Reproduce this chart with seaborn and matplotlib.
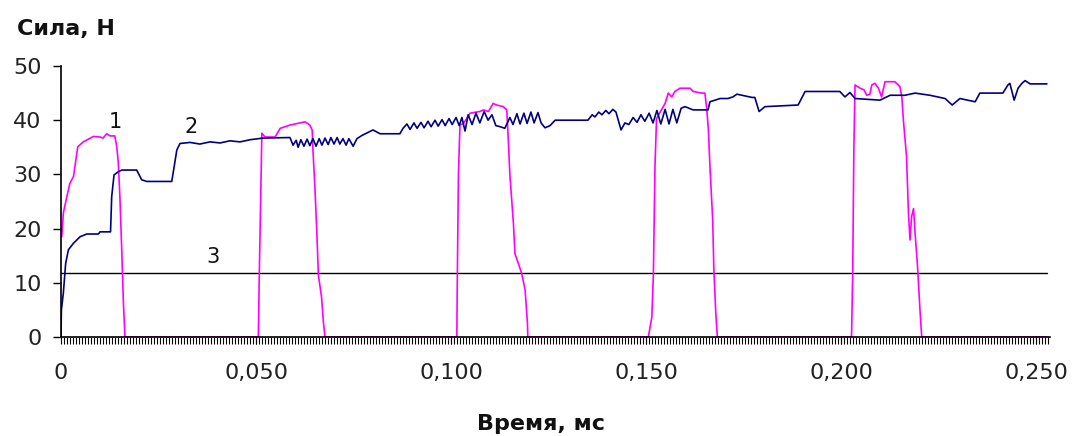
import matplotlib
matplotlib.use("Agg")
import matplotlib.pyplot as plt
import seaborn as sns
import pandas as pd
from matplotlib.ticker import MultipleLocator, FixedLocator, FixedFormatter

# ---- data (time in ms, force in N) ----
pink_t = [0.0002, 0.0006, 0.0015, 0.0023, 0.0032, 0.0043, 0.0057, 0.0083, 0.0100, 0.0108,
          0.0117, 0.0126, 0.0138, 0.0143, 0.0147, 0.0151, 0.0156, 0.0160, 0.0164,
          0.0506, 0.0508, 0.0515, 0.0523, 0.0549, 0.0562, 0.0587, 0.0626, 0.0638, 0.0644,
          0.0646, 0.0651, 0.0656, 0.0660, 0.0668, 0.0673, 0.0677,
          0.1015, 0.1016, 0.1019, 0.1023, 0.1032, 0.1049, 0.1074, 0.1083, 0.1096, 0.1108,
          0.1117, 0.1134, 0.1143, 0.1147, 0.1151, 0.1160, 0.1164, 0.1181, 0.1190, 0.1196, 0.1197,
          0.1506, 0.1515, 0.1519, 0.1523, 0.1527, 0.1549, 0.1557, 0.1566, 0.1574, 0.1587,
          0.1613, 0.1621, 0.1643, 0.1651, 0.1656, 0.1660, 0.1664, 0.1671, 0.1674, 0.1679, 0.1683,
          0.2027, 0.2030, 0.2033, 0.2036, 0.2049, 0.2059, 0.2066, 0.2074, 0.2079, 0.2087,
          0.2096, 0.2104, 0.2113, 0.2138, 0.2151, 0.2156, 0.2160, 0.2168, 0.2173, 0.2177,
          0.2181, 0.2186, 0.2190, 0.2196, 0.2203, 0.2207, 0.2528]
pink_v = [18.5, 22.9, 25.9, 28.4, 29.6, 35.1, 36.0, 37.0, 36.9, 36.7,
          37.5, 37.1, 37.1, 35.1, 32.1, 25.9, 15.5, 6.3, 0.0,
          0.0, 9.6, 37.6, 36.9, 36.9, 38.5, 39.1, 39.7, 39.1, 38.2,
          34.5, 27.7, 19.2, 11.4, 7.4, 2.6, 0.0,
          0.0, 9.6, 29.9, 39.1, 39.4, 41.3, 41.6, 41.9, 41.6, 43.1,
          42.8, 42.5, 41.9, 36.3, 29.9, 21.0, 15.4, 11.8, 8.7, 2.5, 0.0,
          0.0, 3.7, 11.8, 31.5, 40.3, 43.1, 45.0, 44.3, 45.3, 45.9,
          45.9, 45.3, 45.0, 45.0, 41.9, 38.2, 31.4, 21.6, 12.4, 4.4, 0.0,
          0.0, 11.8, 34.8, 46.5, 45.9, 45.6, 44.6, 44.8, 46.5, 46.8,
          45.9, 44.3, 47.1, 47.1, 46.2, 44.3, 40.0, 33.3, 22.8, 17.9,
          22.2, 23.7, 19.1, 13.3, 4.4, 0.0, 0.0]

blue_t = [0.0000, 0.0001, 0.0006, 0.0012, 0.0019, 0.0032, 0.0049, 0.0066, 0.0096, 0.0100,
          0.0127, 0.0130, 0.0136, 0.0147, 0.0156, 0.0194, 0.0207, 0.0220, 0.0284, 0.0288,
          0.0297, 0.0305, 0.0331, 0.0356, 0.0382, 0.0408, 0.0433, 0.0459, 0.0485, 0.0518,
          0.0587, 0.0595, 0.0603, 0.0608, 0.0615, 0.0623, 0.0631, 0.0638, 0.0646, 0.0654,
          0.0662, 0.0669, 0.0677, 0.0685, 0.0692, 0.0700, 0.0708, 0.0715, 0.0723, 0.0731,
          0.0738, 0.0749, 0.0759, 0.0772, 0.0800, 0.0818, 0.0869, 0.0877,
          0.0887, 0.0895, 0.0905, 0.0913, 0.0923, 0.0931, 0.0941, 0.0949, 0.0959, 0.0967,
          0.0977, 0.0985, 0.0995, 0.1003, 0.1013, 0.1021,
          0.1028, 0.1036, 0.1044, 0.1054, 0.1064, 0.1074, 0.1085, 0.1095, 0.1105, 0.1115,
          0.1126, 0.1138,
          0.1151, 0.1159, 0.1169, 0.1177, 0.1187, 0.1195, 0.1205, 0.1213, 0.1223, 0.1231,
          0.1241, 0.1254, 0.1267, 0.1351, 0.1362, 0.1369, 0.1379, 0.1387, 0.1397, 0.1405,
          0.1415, 0.1423, 0.1431, 0.1436, 0.1446, 0.1456, 0.1467, 0.1477, 0.1487, 0.1497,
          0.1508, 0.1518, 0.1528, 0.1538, 0.1549, 0.1559, 0.1569, 0.1579, 0.1590, 0.1600,
          0.1621, 0.1659, 0.1664, 0.1690, 0.1710, 0.1723, 0.1733, 0.1772, 0.1779, 0.1790,
          0.1805, 0.1890, 0.1908, 0.1997, 0.2010, 0.2023, 0.2036, 0.2100, 0.2126, 0.2164,
          0.2190, 0.2228, 0.2267, 0.2285, 0.2305, 0.2344, 0.2356, 0.2415, 0.2428, 0.2433,
          0.2444, 0.2454, 0.2464, 0.2472, 0.2485, 0.2528]
blue_v = [0.0, 5.0, 8.1, 13.6, 16.1, 17.3, 18.5, 19.0, 19.0, 19.4,
          19.4, 25.9, 29.9, 30.5, 30.8, 30.8, 29.0, 28.7, 28.7, 30.5,
          34.5, 35.7, 35.9, 35.6, 36.0, 35.8, 36.2, 36.0, 36.4, 36.7,
          36.8, 35.4, 36.3, 35.0, 36.4, 35.2, 36.5, 35.3, 36.6, 35.2,
          36.6, 35.4, 36.7, 35.5, 36.8, 35.6, 36.8, 35.6, 36.6, 35.4,
          36.6, 35.2, 36.6, 37.2, 38.2, 37.5, 37.5, 38.5,
          39.3, 38.3, 39.5, 38.5, 39.6, 38.6, 39.8, 38.8, 40.0, 38.9,
          40.1, 39.0, 40.3, 39.2, 40.5, 39.0,
          40.5, 38.0, 41.0, 39.2, 41.3, 39.5, 41.6, 40.0, 41.0, 39.0,
          38.8, 38.5,
          40.5, 39.2, 41.2, 39.3, 41.3, 39.4, 41.5, 39.5, 41.4, 39.5,
          38.6, 39.0, 40.0, 40.0, 41.0, 40.6, 41.5, 41.0, 41.8, 41.2,
          42.0, 41.5, 39.5, 38.2, 39.5, 39.2, 40.5, 39.6, 41.0, 39.8,
          41.3, 39.5, 41.8, 39.3, 42.0, 39.3, 42.0, 39.5, 42.2, 42.5,
          41.9, 41.9, 43.4, 44.0, 44.0, 44.3, 44.8, 44.2, 44.2, 41.6,
          42.5, 42.8, 45.3, 45.3, 44.3, 45.1, 44.0, 43.7, 44.6, 44.6,
          45.0, 44.6, 44.0, 42.8, 44.0, 43.4, 45.0, 45.0, 46.5, 46.8,
          43.7, 45.9, 46.8, 47.3, 46.7, 46.7]

line3_t = [0.0, 0.2528]
line3_v = [11.8, 11.8]

y_ticks = [0, 10, 20, 30, 40, 50]
x_ticks = [0.0, 0.05, 0.10, 0.15, 0.20, 0.25]
x_labels = ["0", "0,050", "0,100", "0,150", "0,200", "0,250"]

labels_text = ["1", "2", "3"]
labels_t = [0.0138, 0.0333, 0.0390]
labels_v = [39.7, 38.7, 14.8]

# ---- plot ----
sns.set_theme(style="white")
plt.rcParams["font.family"] = ["DejaVu Sans"]

W, H = 1072, 436
fig = plt.figure(figsize=(W / 100, H / 100), dpi=100)
ax = fig.add_axes([61 / W, (H - 337) / H, (1050 - 61) / W, (337 - 66) / H])

df_pink = pd.DataFrame({"t": pink_t, "v": pink_v})
df_blue = pd.DataFrame({"t": blue_t, "v": blue_v})
df_3 = pd.DataFrame({"t": line3_t, "v": line3_v})

sns.lineplot(data=df_3, x="t", y="v", ax=ax, color="black", lw=1.0,
             sort=False, estimator=None)
sns.lineplot(data=df_pink, x="t", y="v", ax=ax, color="#FF00FF", lw=1.2,
             sort=False, estimator=None)
sns.lineplot(data=df_blue, x="t", y="v", ax=ax, color="#000080", lw=1.2,
             sort=False, estimator=None)

ax.set_xlim(0, (1050 - 61) / 3900)
ax.set_ylim(0, 50)
ax.set_xlabel("")
ax.set_ylabel("")

for s in ["top", "right"]:
    ax.spines[s].set_visible(False)
for s in ["left", "bottom"]:
    ax.spines[s].set_color("black")
    ax.spines[s].set_linewidth(1.2)
    ax.spines[s].set_zorder(3)

ax.yaxis.set_major_locator(FixedLocator(y_ticks))
ax.tick_params(axis="y", which="major", direction="out", length=6, width=1,
               color="black", labelsize=16, labelcolor="#222222", pad=8, left=True)

ax.xaxis.set_major_locator(FixedLocator(x_ticks))
ax.xaxis.set_major_formatter(FixedFormatter(x_labels))
ax.xaxis.set_minor_locator(MultipleLocator(0.000769))
ax.tick_params(axis="x", which="both", direction="out", length=5, width=0.8,
               color="black", bottom=True)
ax.tick_params(axis="x", which="major", labelsize=16, labelcolor="#222222", pad=14)

for txt, t, v in zip(labels_text, labels_t, labels_v):
    ax.text(t, v, txt, ha="center", va="center", fontsize=15, color="#111111")

fig.text(17 / W, 1 - 35 / H, "Сила, Н", fontsize=16, fontweight="bold",
         ha="left", va="baseline", color="#111111")
fig.text(541 / W, 1 - 430 / H, "Время, мс", fontsize=16, fontweight="bold",
         ha="center", va="baseline", color="#111111")

fig.savefig("out.png", dpi=100, facecolor="white")
